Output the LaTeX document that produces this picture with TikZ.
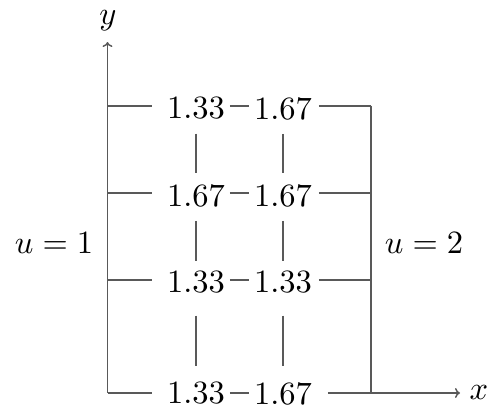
\documentclass[tikz,border=0pt]{standalone}
\usepackage{graphicx}
\usetikzlibrary{arrows.meta}
\newcommand{\bigtxt}[1]{\scalebox{3.25}{#1}}
\begin{document}
\begin{tikzpicture}[x=1pt,y=-1pt,
  val/.style={inner sep=0pt,outer sep=0pt},
  lab/.style={inner sep=0pt},
  ln/.style={draw=black!65,line width=1.5pt},
  arr/.style={ln,-{To[length=5pt,width=10pt]}}]
\useasboundingbox (0,0) rectangle (487,408);
% value nodes
\node[val] (a11) at (196,108.5) {\bigtxt{1.33}};
\node[val] (a12) at (283,108.5) {\bigtxt{1.67}};
\node[val] (a21) at (196,195.5) {\bigtxt{1.67}};
\node[val] (a22) at (283,195.5) {\bigtxt{1.67}};
\node[val] (a31) at (196,282.5) {\bigtxt{1.33}};
\node[val] (a32) at (283,282.5) {\bigtxt{1.33}};
\node[val] (a41) at (196,393.5) {\bigtxt{1.33}};
\node[val] (a42) at (283,393.5) {\bigtxt{1.67}};
% line anchor points
\foreach \r/\s in {1/2.5,2/2.5,3/2.5,4/0.5}{
  \coordinate (w\r) at ([yshift=\s pt]a\r1.west);
  \coordinate (m\r a) at ([yshift=\s pt]a\r1.east);
  \coordinate (m\r b) at ([yshift=\s pt]a\r2.west);
  \coordinate (e\r) at ([yshift=\s pt]a\r2.east);
}
% axis coordinates
\coordinate (O) at (107.5,393);
\coordinate (T) at (107.5,42);
\coordinate (X) at (460,393);
\coordinate (TR) at (371,105.5);
\coordinate (BR) at (371,393);
% labels
\node[lab] (ylab) at (108,21) {\bigtxt{$y$}};
\node[lab] (xlab) at (479,392) {\bigtxt{$x$}};
\node[lab] (u1) at (54,243) {\bigtxt{$u=1$}};
\node[lab] (u2) at (424,243) {\bigtxt{$u=2$}};
% axes
\draw[arr] (O) -- (T);
\draw[ln] (TR) -- (BR);
\draw[arr,shorten <=16pt] (e4) -- (X);
% left segments
\foreach \r in {1,2,3,4}{
  \draw[ln,shorten >=15pt] (O |- w\r) -- (w\r);
}
% right segments
\foreach \r in {1,2,3}{
  \draw[ln,shorten <=7pt] (e\r) -- (TR |- e\r);
}
% inner horizontal dashes
\foreach \r in {1,2,3,4}{
  \draw[ln,shorten <=5pt,shorten >=5pt] (m\r a) -- (m\r b);
}
% vertical segments
\foreach \c in {1,2}{
  \draw[ln,shorten <=14pt,shorten >=11pt] (a1\c.south) -- (a2\c.north);
  \draw[ln,shorten <=14pt,shorten >=10pt] (a2\c.south) -- (a3\c.north);
  \draw[ln,shorten <=22pt,shorten >=16pt] (a3\c.south) -- (a4\c.north);
}
\end{tikzpicture}
\end{document}
